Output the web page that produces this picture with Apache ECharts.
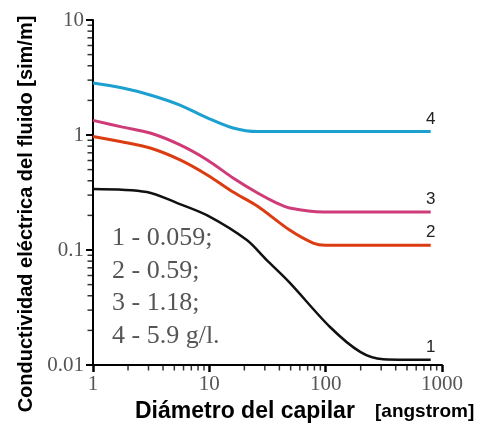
<!DOCTYPE html>
<html><head><meta charset="utf-8">
<script src="https://cdn.jsdelivr.net/npm/echarts@6/dist/echarts.min.js"></script>
<style>html,body{margin:0;padding:0;background:#fff}#c{width:486px;height:434px}</style>
</head><body><div id="c"></div>
<script>
const seriesNames = ['1', '2', '3', '4'];
const seriesColors = ['#111111', '#dc3c12', '#cf3a78', '#1ca0d0'];
const x1 = [1, 2.9, 5.3, 9.6, 21, 31, 49, 109, 198, 312, 500, 800];
const y1 = [0.34, 0.32, 0.256, 0.20, 0.122, 0.082, 0.052, 0.0214, 0.013, 0.0112, 0.0111, 0.0111];
const x2 = [1, 1.8, 3.1, 5.6, 9.6, 16, 26, 49, 78, 100, 300, 800];
const y2 = [0.97, 0.87, 0.77, 0.607, 0.449, 0.319, 0.24, 0.149, 0.115, 0.11, 0.11, 0.11];
const x3 = [1, 1.8, 3.1, 5.6, 9.6, 16, 26, 38, 49, 95, 300, 800];
const y3 = [1.34, 1.17, 1.04, 0.82, 0.607, 0.423, 0.313, 0.256, 0.232, 0.214, 0.214, 0.214];
const x4 = [1, 1.8, 3.1, 5.6, 9.6, 16, 26, 100, 300, 800];
const y4 = [2.83, 2.56, 2.23, 1.82, 1.41, 1.15, 1.07, 1.07, 1.07, 1.07];
const xTicks = [1, 10, 100, 1000];
const yTicks = [0.01, 0.1, 1, 10];
const xMinorTicks = [2,3,4,5,6,7,8,9,20,30,40,50,60,70,80,90,200,300,400,500,600,700,800,900];
const yMinorTicks = [0.02,0.03,0.04,0.05,0.06,0.07,0.08,0.09,0.2,0.3,0.4,0.5,0.6,0.7,0.8,0.9,2,3,4,5,6,7,8,9];
const noteLines = ['1 - 0.059;', '2 - 0.59;', '3 - 1.18;', '4 - 5.9 g/l.'];
const xAxisTitle = 'Diámetro del capilar';
const xAxisUnit = '[angstrom]';
const yAxisTitle = 'Conductividad eléctrica del fluido [sim/m]';

const xs = [x1, x2, x3, x4], ys = [y1, y2, y3, y4];
const widths = [2.5, 3, 3, 3];
const chart = echarts.init(document.getElementById('c'), null, {renderer: 'canvas'});
const lineSeries = seriesNames.map((n, k) => ({
  name: n, type: 'line', smooth: 0.3, symbol: 'none',
  lineStyle: {color: seriesColors[k], width: widths[k]},
  itemStyle: {color: seriesColors[k]},
  data: xs[k].map((x, i) => [x, ys[k][i]]),
  endLabel: {show: true, formatter: '{a}', color: '#222', fontFamily: 'Liberation Sans', fontSize: 17,
    align: 'center', verticalAlign: 'bottom', offset: [-8, -4]},
  z: 3
}));
const option = {
  animation: false,
  backgroundColor: '#fff',
  grid: {left: 93, right: 44, top: 20, bottom: 69},
  xAxis: {
    type: 'log', logBase: 10, min: 1, max: 1000,
    axisLine: {lineStyle: {color: '#000', width: 2}},
    axisTick: {show: true, inside: false, length: 7, lineStyle: {color: '#000', width: 2.5}},
    axisLabel: {color: '#555', fontFamily: 'Liberation Serif', fontSize: 21, margin: 9,
      formatter: v => xTicks.includes(v) ? String(v) : ''},
    splitLine: {show: false}
  },
  yAxis: {
    type: 'log', logBase: 10, min: 0.01, max: 10,
    axisLine: {show: true, lineStyle: {color: '#000', width: 2}},
    axisTick: {show: true, inside: false, length: 7, lineStyle: {color: '#000', width: 2}},
    axisLabel: {color: '#555', fontFamily: 'Liberation Serif', fontSize: 21, margin: 9,
      formatter: v => yTicks.includes(v) ? String(v) : ''},
    splitLine: {show: false}
  },
  graphic: [
    {type: 'text', x: 26, y: 214, rotation: Math.PI / 2,
      style: {text: yAxisTitle, fontFamily: 'Liberation Sans', fontWeight: 'bold', fontSize: 20, fill: '#000',
        align: 'center', verticalAlign: 'middle'}},
    {type: 'text', x: 135, y: 412,
      style: {text: xAxisTitle, fontFamily: 'Liberation Sans', fontWeight: 'bold', fontSize: 23, fill: '#000',
        verticalAlign: 'middle'}},
    {type: 'text', x: 375, y: 412,
      style: {text: xAxisUnit, fontFamily: 'Liberation Sans', fontWeight: 'bold', fontSize: 19, fill: '#000',
        verticalAlign: 'middle'}},
    {type: 'text', x: 112, y: 222,
      style: {text: noteLines.join('\n'), fontFamily: 'Liberation Serif', fontSize: 26, lineHeight: 32.5, fill: '#555'}}
  ],
  series: [
    ...lineSeries,
    {type: 'scatter', silent: true, clip: false, symbol: 'rect', symbolSize: [1.5, 5], symbolOffset: [0, 3],
      itemStyle: {color: '#000'}, data: xMinorTicks.map(v => [v, 0.01]), z: 4},
    {type: 'scatter', silent: true, clip: false, symbol: 'rect', symbolSize: [5, 1.5], symbolOffset: [-3, 0],
      itemStyle: {color: '#000'}, data: yMinorTicks.map(v => [1, v]), z: 4}
  ]
};
chart.setOption(option);
</script></body></html>
